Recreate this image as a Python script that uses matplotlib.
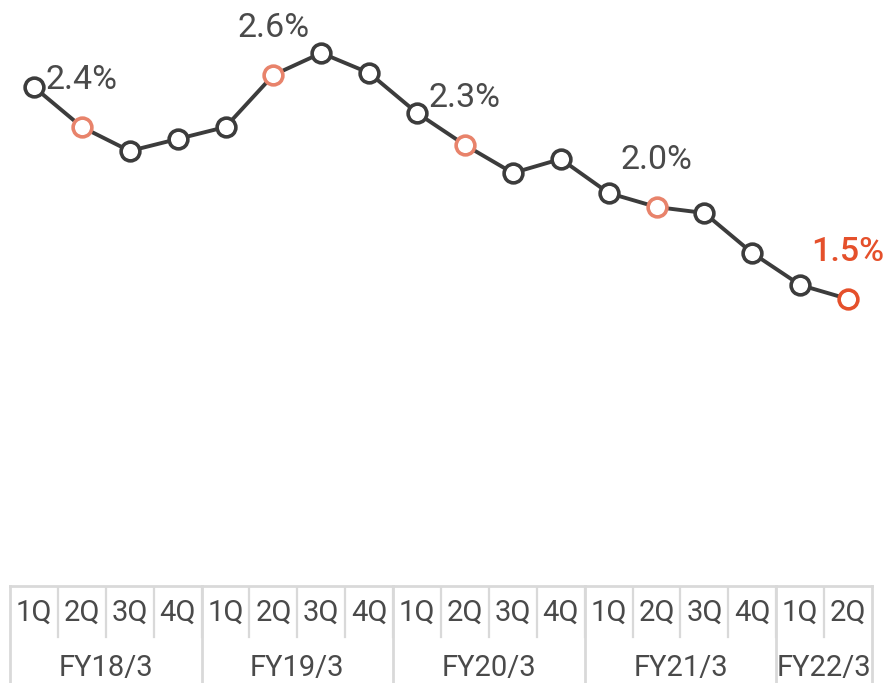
import matplotlib.pyplot as plt
import numpy as np

quarters = ['1Q', '2Q', '3Q', '4Q'] * 4 + ['1Q', '2Q']
years = ['FY18/3', 'FY19/3', 'FY20/3', 'FY21/3', 'FY22/3']
year_sizes = [4, 4, 4, 4, 2]
ratio = [2.56, 2.36, 2.24, 2.30, 2.36, 2.62, 2.73, 2.63, 2.43,
         2.27, 2.13, 2.20, 2.03, 1.96, 1.93, 1.73, 1.57, 1.50]
label_idx = [1, 5, 9, 13, 17]
label_txt = ['2.4%', '2.6%', '2.3%', '2.0%', '1.5%']

plt.rcParams['font.family'] = ['Roboto', 'DejaVu Sans']

dark = '#3c3c3c'
salmon = '#e8836b'
red = '#e5502b'
grid = '#d9d9d9'
text_c = '#4a4a4a'

W, H = 885, 683
fig = plt.figure(figsize=(W / 100, H / 100), dpi=100)

# line chart
ax = fig.add_axes([10 / W, (H - 586) / H, 862 / W, 586 / H])
x = np.arange(len(ratio))
ax.plot(x, ratio, color=dark, lw=2.8, zorder=2)
for i, v in enumerate(ratio):
    if i == len(ratio) - 1:
        ec = red
    elif i in label_idx:
        ec = salmon
    else:
        ec = dark
    ax.plot(i, v, 'o', ms=13.5, mfc='white', mec=ec, mew=2.6, zorder=3)

for i, t in zip(label_idx, label_txt):
    last = i == len(ratio) - 1
    ax.annotate(t, (i, ratio[i]), xytext=(0, 34), textcoords='offset points',
                ha='center', va='center', fontsize=24.5,
                color=red if last else text_c,
                fontweight='medium' if last else 'normal')

ax.set_xlim(-0.5, len(ratio) - 0.5)
ax.set_ylim(0.065, 2.995)
ax.axis('off')

# category table underneath
tb = fig.add_axes([10 / W, 0, 862 / W, 97 / H])
tb.set_xlim(-0.5, len(ratio) - 0.5)
tb.set_ylim(97, 0)
tb.axis('off')

tb.plot([-0.5, len(ratio) - 0.5], [0, 0], color=grid, lw=2, clip_on=False)
for i, q in enumerate(quarters):
    tb.text(i, 27, q, ha='center', va='center', fontsize=21, color=text_c)
    if i > 0:
        tb.plot([i - 0.5, i - 0.5], [0, 51], color=grid, lw=1.6)

start = 0
bounds = [-0.5]
for yname, n in zip(years, year_sizes):
    tb.text(start + (n - 1) / 2, 82, yname, ha='center', va='center',
            fontsize=21, color=text_c)
    start += n
    bounds.append(start - 0.5)
for b in bounds:
    tb.plot([b, b], [0, 97], color=grid, lw=2, clip_on=False)

fig.savefig('out.png', dpi=100)
